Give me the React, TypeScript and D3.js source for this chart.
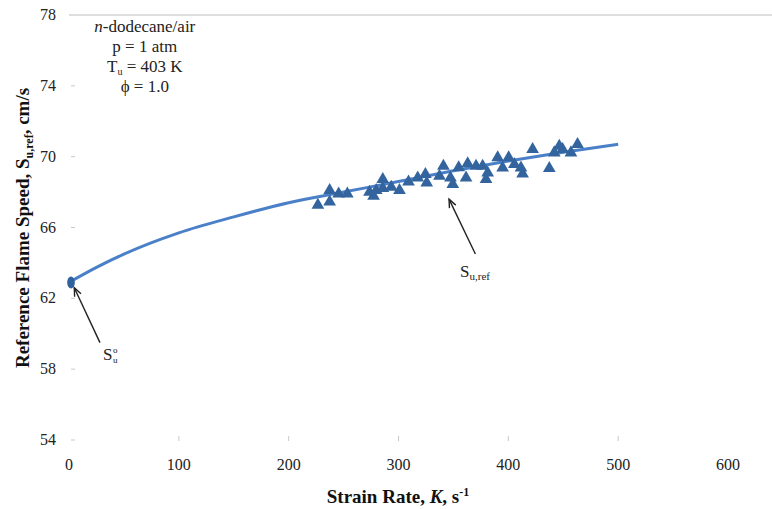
import React from "react";
import * as d3 from "d3";

const W = 772;
const H = 509;

const xTicks = [0, 100, 200, 300, 400, 500, 600];
const yTicks = [54, 58, 62, 66, 70, 74, 78];

// fitted curve S_u,ref vs strain rate
const curveK = [0, 25, 50, 100, 150, 200, 250, 300, 350, 400, 450, 500];
const curveS = [62.9, 63.75, 64.5, 65.7, 66.6, 67.4, 68.0, 68.6, 69.2, 69.75, 70.25, 70.7];

// measured points (triangles)
const expK = [
  226.6, 237.3, 237.3, 245.5, 253.4, 273.6, 277.3, 279.7, 285.7, 285.7, 293.4, 300.9,
  309.1, 317.5, 324.5, 325.7, 337.3, 340.9, 347.3, 349.4, 354.8, 361.5, 363, 370.6,
  376.6, 379.7, 381.2, 390.3, 394.8, 400.3, 405.5, 411.5, 413, 422.1, 437.3, 441.8,
  446.4, 449.4, 457, 463,
];
const expS = [
  67.32, 67.51, 68.15, 67.96, 67.96, 68.06, 67.83, 68.15, 68.77, 68.27, 68.34, 68.15,
  68.64, 68.86, 69.06, 68.58, 68.96, 69.53, 68.86, 68.5, 69.44, 68.86, 69.66, 69.53,
  69.53, 68.77, 69.15, 70.0, 69.43, 70.0, 69.62, 69.43, 69.09, 70.47, 69.4, 70.28,
  70.66, 70.47, 70.28, 70.75,
];

// unstretched flame speed point
const s0K = [0];
const s0S = [62.9];

const infoLines = ["p = 1 atm", "ϕ = 1.0"];

export default function App() {
  const x = d3.scaleLinear().domain([0, 600]).range([69, 728]);
  const y = d3.scaleLinear().domain([54, 78]).range([440, 15]);

  const line = d3
    .line<number>()
    .x((_, i) => x(curveK[i]))
    .y((d) => y(d))
    .curve(d3.curveMonotoneX);

  const tri = d3.symbol().type(d3.symbolTriangle).size(70)();

  const font = "'Liberation Serif', 'Times New Roman', serif";
  const tcx = x(69);

  const arrow = (x1: number, y1: number, x2: number, y2: number) => {
    const ang = Math.atan2(y2 - y1, x2 - x1);
    const L = 9;
    const a1 = ang + Math.PI - 0.4;
    const a2 = ang + Math.PI + 0.4;
    return (
      <g stroke="#222" strokeWidth={1.4} fill="none">
        <line x1={x1} y1={y1} x2={x2} y2={y2} />
        <path
          d={`M${x2 + L * Math.cos(a1)},${y2 + L * Math.sin(a1)}L${x2},${y2}L${x2 + L * Math.cos(a2)},${y2 + L * Math.sin(a2)}`}
        />
      </g>
    );
  };

  return (
    <svg
      width={W}
      height={H}
      style={{ position: "absolute", left: 0, top: 0, background: "#fff" }}
      fontFamily={font}
    >
      {/* top gridline */}
      <line x1={x(0)} x2={W} y1={y(78)} y2={y(78)} stroke="#bdbdbd" strokeWidth={1} />

      {/* y ticks */}
      {yTicks.map((t) => (
        <g key={t}>
          {t !== 78 && (
            <line x1={x(0) + 2} x2={x(0) + 6} y1={y(t)} y2={y(t)} stroke="#c8c8c8" strokeWidth={1} />
          )}
          <text x={56} y={y(t) + 5} textAnchor="end" fontSize={16} fill="#222">
            {t}
          </text>
        </g>
      ))}

      {/* x ticks */}
      {xTicks.map((t) => (
        <g key={t}>
          {t > 0 && t < 600 && (
            <line x1={x(t)} x2={x(t)} y1={y(54) - 4} y2={y(54) + 1} stroke="#c8c8c8" strokeWidth={1} />
          )}
          <text x={x(t)} y={470} textAnchor="middle" fontSize={16} fill="#222">
            {t}
          </text>
        </g>
      ))}

      {/* fitted curve */}
      <path d={line(curveS) || ""} fill="none" stroke="#4a80c8" strokeWidth={3} />

      {/* S_u^0 marker */}
      {s0K.map((k, i) => (
        <ellipse key={i} cx={x(k) + 2} cy={y(s0S[i])} rx={3.8} ry={6} fill="#2f619c" />
      ))}

      {/* triangles */}
      {expK.map((k, i) => (
        <path
          key={i}
          d={tri || ""}
          transform={`translate(${x(k)},${y(expS[i]) + 1})`}
          fill="#33649e"
        />
      ))}

      {/* arrows */}
      {arrow(x(28.2), y(59.5), x(4.8), y(62.6))}
      {arrow(x(370), y(64.5), x(346), y(67.6))}

      {/* S_u^0 label */}
      <text x={x(31)} y={y(58.5)} fontSize={17} fill="#222">
        S
      </text>
      <text x={x(31) + 10} y={y(58.5) - 7} fontSize={9} fill="#222">
        o
      </text>
      <text x={x(31) + 10} y={y(58.5) + 3} fontSize={9} fill="#222">
        u
      </text>

      {/* S_u,ref label */}
      <text x={x(356)} y={y(63.2)} fontSize={17} fill="#222">
        S
        <tspan fontSize={11} dy={3}>
          u,ref
        </tspan>
      </text>

      {/* info block */}
      <g fontSize={17} fill="#222" textAnchor="middle">
        <text x={tcx} y={32}>
          <tspan fontStyle="italic">n</tspan>-dodecane/air
        </text>
        <text x={tcx} y={52}>
          {infoLines[0]}
        </text>
        <text x={tcx} y={72}>
          T<tspan fontSize={10} dy={3}>u</tspan>
          <tspan dy={-3}> = 403 K</tspan>
        </text>
        <text x={tcx} y={92}>
          {infoLines[1]}
        </text>
      </g>

      {/* axis titles */}
      <text
        transform={`translate(29,228) rotate(-90)`}
        textAnchor="middle"
        fontSize={19}
        fontWeight="bold"
        fill="#111"
      >
        Reference Flame Speed, S<tspan fontSize={12} dy={4}>u,ref</tspan>
        <tspan dy={-4}>, cm/s</tspan>
      </text>
      <text x={398} y={503} textAnchor="middle" fontSize={19} fontWeight="bold" fill="#111">
        Strain Rate, <tspan fontStyle="italic">K</tspan>, s<tspan fontSize={12} dy={-7}>-1</tspan>
      </text>
    </svg>
  );
}
